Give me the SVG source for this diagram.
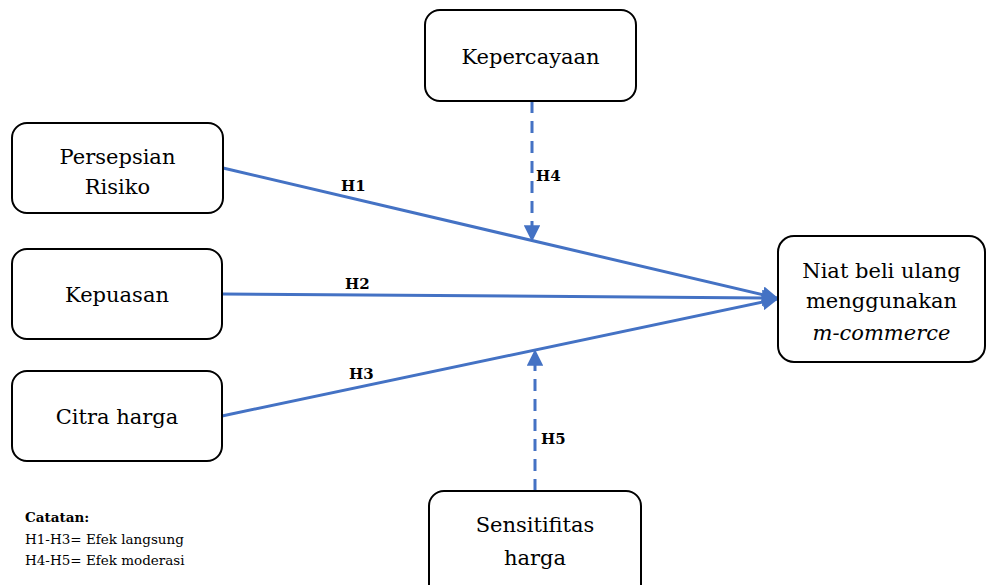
<svg xmlns="http://www.w3.org/2000/svg" width="986" height="585" viewBox="0 0 986 585">
<defs>
<style>
.box{fill:#fff;stroke:#000;stroke-width:2}
.t{font-family:"DejaVu Serif","Liberation Serif",serif;font-size:21px;fill:#000;text-anchor:middle}
.lbl{font-family:"DejaVu Serif","Liberation Serif",serif;font-size:15px;font-weight:bold;fill:#000}
.note{font-family:"DejaVu Serif","Liberation Serif",serif;font-size:13.5px;fill:#000}
.ln{stroke:#4472C4;stroke-width:3;fill:none}
.dash{stroke:#4472C4;stroke-width:3;fill:none;stroke-dasharray:12,8}
</style>
<marker id="ah" viewBox="0 0 10 10" refX="9" refY="5" markerWidth="5.5" markerHeight="5.5" markerUnits="strokeWidth" orient="auto">
<path d="M0,0 L10,5 L0,10 z" fill="#4472C4"/>
</marker>
</defs>
<rect width="986" height="585" fill="#fff"/>
<g id="connectors">
<line class="ln" x1="223" y1="168" x2="777" y2="298" marker-end="url(#ah)"/>
<line class="ln" x1="222" y1="294" x2="777" y2="298" marker-end="url(#ah)"/>
<line class="ln" x1="222" y1="416" x2="777" y2="299" marker-end="url(#ah)"/>
<line class="dash" x1="532" y1="101" x2="532" y2="240" marker-end="url(#ah)"/>
<line class="dash" x1="535" y1="491" x2="535" y2="351" marker-end="url(#ah)"/>
<text class="lbl" x="341" y="191">H1</text>
<text class="lbl" x="345" y="289">H2</text>
<text class="lbl" x="349" y="379">H3</text>
<text class="lbl" x="536" y="181">H4</text>
<text class="lbl" x="541" y="444">H5</text>
</g>
<g id="kepercayaan">
<rect class="box" x="425" y="10" width="211" height="91" rx="15"/>
<text class="t" x="530.5" y="64">Kepercayaan</text>
</g>
<g id="persepsian">
<rect class="box" x="12" y="123" width="211" height="90" rx="15"/>
<text class="t" x="117.5" y="164">Persepsian</text>
<text class="t" x="117.5" y="194">Risiko</text>
</g>
<g id="kepuasan">
<rect class="box" x="12" y="249" width="210" height="90" rx="15"/>
<text class="t" x="117" y="302">Kepuasan</text>
</g>
<g id="citra">
<rect class="box" x="12" y="371" width="210" height="90" rx="15"/>
<text class="t" x="117" y="424">Citra harga</text>
</g>
<g id="niat">
<rect class="box" x="778" y="236" width="207" height="126" rx="16"/>
<text class="t" x="881.5" y="278">Niat beli ulang</text>
<text class="t" x="881.5" y="308">menggunakan</text>
<text class="t" x="881.5" y="340" font-style="italic">m-commerce</text>
</g>
<g id="sensitifitas">
<rect class="box" x="429" y="491" width="212" height="110" rx="15"/>
<text class="t" x="535" y="532">Sensitifitas</text>
<text class="t" x="535" y="565">harga</text>
</g>
<g id="catatan">
<text class="note" x="25" y="522" font-weight="bold">Catatan:</text>
<text class="note" x="25" y="544">H1-H3= Efek langsung</text>
<text class="note" x="25" y="565">H4-H5= Efek moderasi</text>
</g>
</svg>
